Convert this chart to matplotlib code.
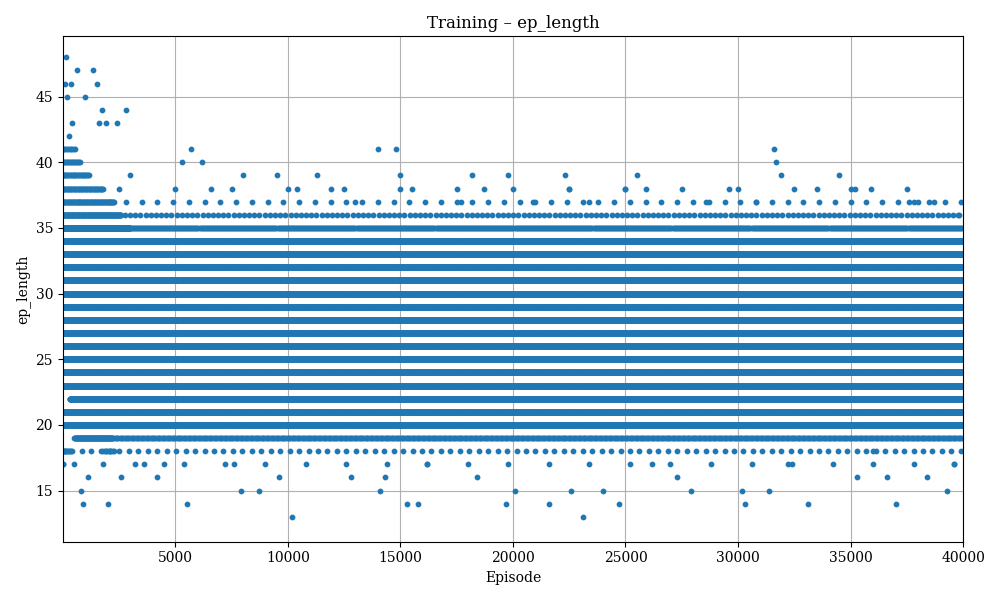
import numpy as np
import matplotlib
matplotlib.use('Agg')
import matplotlib.pyplot as plt

plt.rcParams['font.family'] = 'DejaVu Serif'

# runs of episodes at one ep_length: (length, first episode, last episode, spacing)
runs = [
    (20, 1, 40000, 12), (21, 1, 40000, 12), (22, 300, 40000, 12), (23, 1, 40000, 12),
    (24, 1, 40000, 12), (25, 1, 40000, 12), (26, 1, 40000, 12), (27, 1, 40000, 12),
    (28, 1, 40000, 12), (29, 1, 40000, 12), (30, 1, 40000, 12), (31, 1, 40000, 12),
    (32, 1, 40000, 12), (33, 1, 40000, 12), (34, 1, 40000, 12),
    (35, 1, 40000, 45), (19, 600, 40000, 55),
    (36, 1, 40000, 230), (18, 1, 40000, 420), (37, 1, 40000, 700),
    (35, 1, 3000, 12), (36, 1, 2600, 20), (37, 1, 2300, 30), (38, 1, 1800, 35),
    (39, 1, 1200, 40), (40, 1, 800, 45), (41, 1, 600, 60),
    (19, 500, 2200, 25), (18, 1, 400, 40), (18, 1800, 2300, 60),
    (17, 1, 40000, 1800), (38, 1, 40000, 2500),
]

# scattered single episodes (episode, ep_length)
out_ep = [1, 80, 150, 200, 260, 350, 420, 500, 650, 800, 900, 1000, 1100, 1350, 1500,
          1600, 1750, 1900, 2000, 2400, 2600, 2800, 3000, 3200, 4200, 4500, 5300, 5500,
          5700, 6200, 6600, 7600, 7900, 8000, 8700, 9500, 9600, 10200, 10400, 11300,
          11900, 12800, 13000, 14000, 14100, 14300, 14800, 15000, 15300, 15500, 15800,
          16200, 17700, 18200, 18400, 18700, 19700, 19800, 20100, 20900, 21600, 22300,
          22500, 22600, 23100, 23400, 24000, 24700, 25000, 25500, 25900, 26200, 27300,
          27900, 28600, 29600, 30200, 30300, 30800, 31400, 31600, 31700, 31900, 32200,
          33100, 33500, 34500, 35200, 35300, 35900, 36600, 37000, 37600, 38400, 38700,
          39300, 39800, 39600, 38000, 36000]
out_len = [17, 46, 48, 45, 42, 46, 43, 17, 47, 15, 14, 45, 16, 47, 46, 43, 44, 43, 14,
           43, 16, 44, 39, 17, 16, 17, 40, 14, 41, 40, 38, 17, 15, 39, 15, 39, 16, 13,
           38, 39, 38, 16, 37, 41, 15, 16, 41, 39, 14, 38, 14, 17, 37, 39, 16, 38, 14,
           39, 15, 37, 14, 39, 38, 15, 13, 37, 15, 14, 38, 39, 38, 17, 16, 15, 37, 38,
           15, 14, 37, 15, 41, 40, 39, 17, 14, 38, 39, 38, 16, 38, 16, 14, 37, 16, 37,
           15, 36, 17, 37, 18]

xs, ys = [], []
for length, a, b, step in runs:
    e = np.arange(a, b + 1, step)
    xs.append(e)
    ys.append(np.full(len(e), length))
xs.append(np.array(out_ep))
ys.append(np.array(out_len))
x = np.concatenate(xs)
y = np.concatenate(ys)

fig, ax = plt.subplots(figsize=(10, 6), dpi=100)
ax.scatter(x, y, s=10, color='#1f77b4', zorder=2)
ax.set_xlim(1, 40000)
ax.set_ylim(11.1, 49.6)
ax.set_xticks(range(5000, 40001, 5000))
ax.grid(True, zorder=0)
ax.set_axisbelow(True)
ax.set_title('Training – ep_length')
ax.set_xlabel('Episode')
ax.set_ylabel('ep_length')
plt.tight_layout()
plt.savefig('out.png')
